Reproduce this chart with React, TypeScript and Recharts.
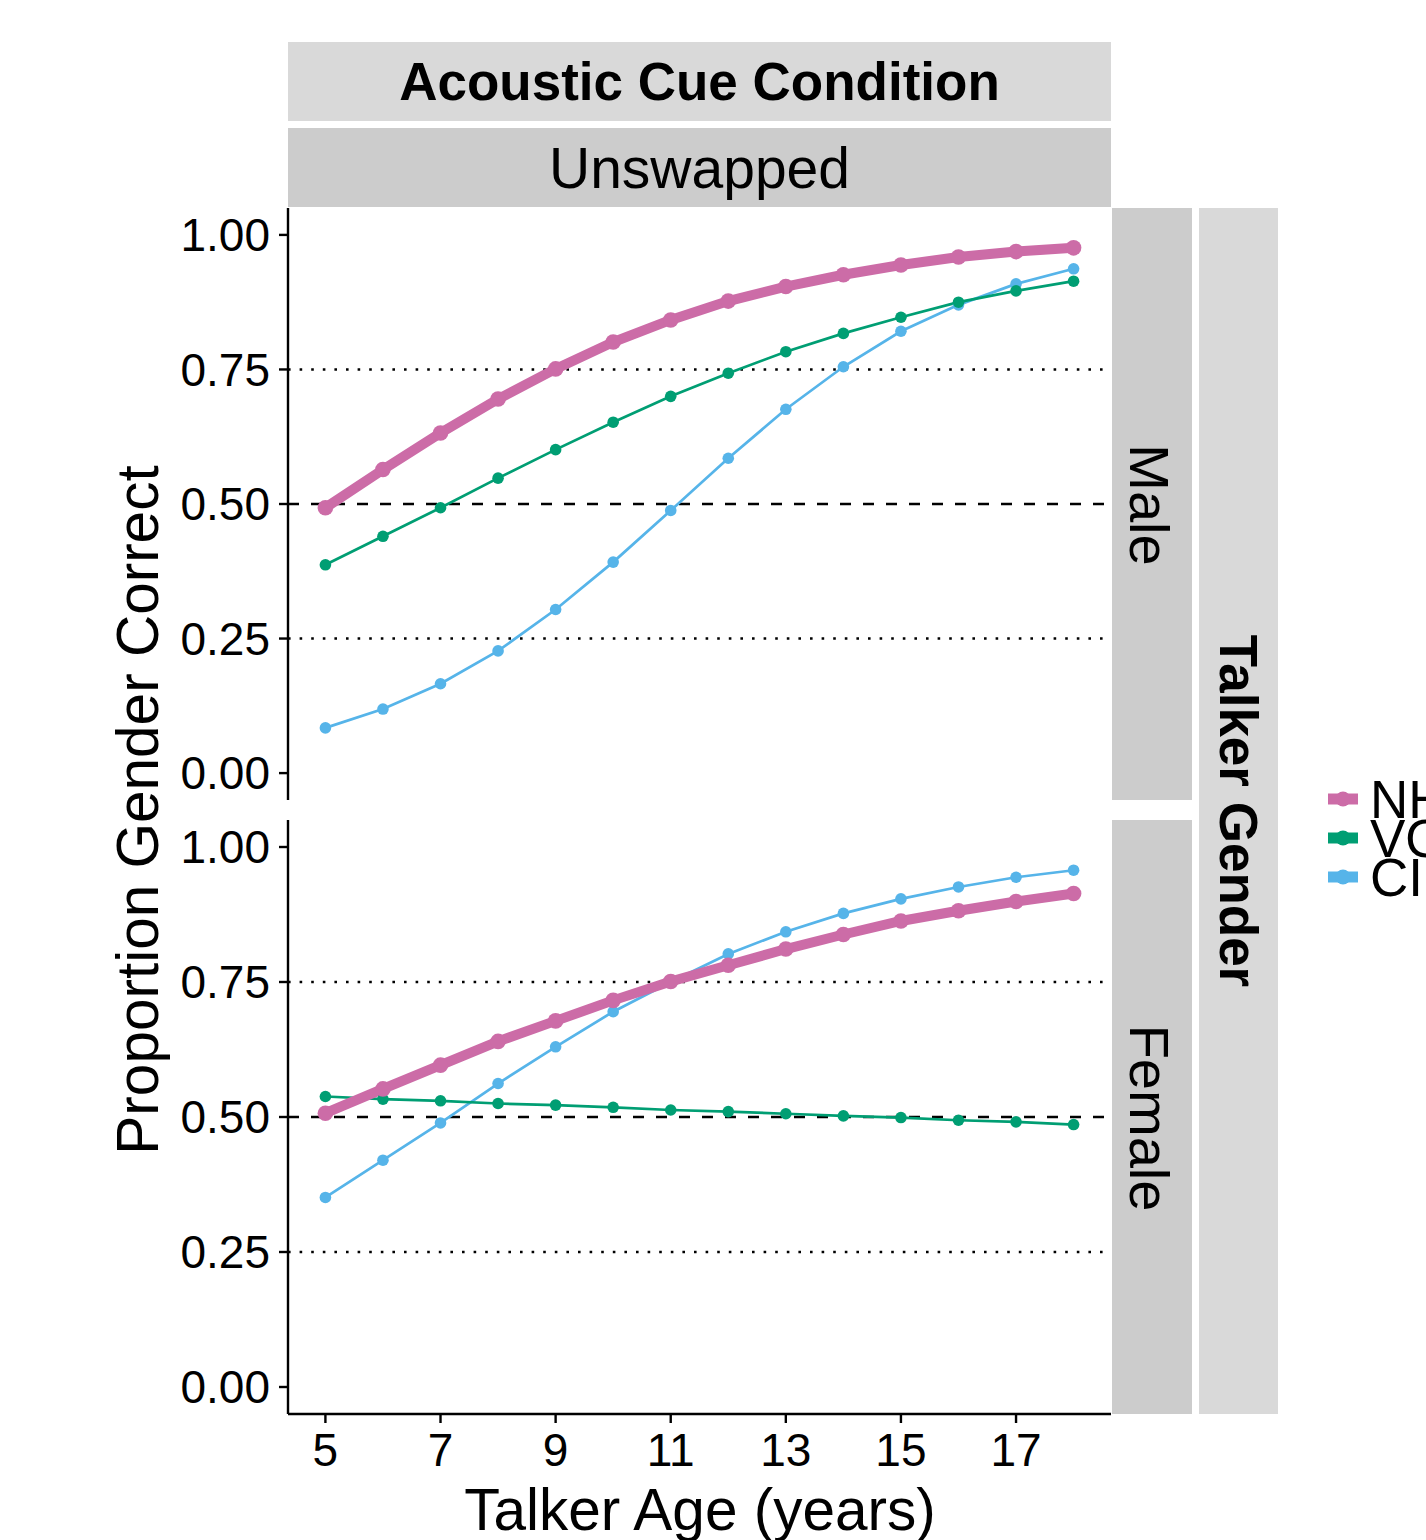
import React from 'react';
import { LineChart, Line, XAxis, YAxis, ReferenceLine } from 'recharts';

const FONT = '"Liberation Sans", Arial, Helvetica, sans-serif';

const ages = [5, 6, 7, 8, 9, 10, 11, 12, 13, 14, 15, 16, 17, 18];
const xTicks = [5, 7, 9, 11, 13, 15, 17];
const yTicks = [0, 0.25, 0.5, 0.75, 1];

const nhMale = [0.493, 0.564, 0.632, 0.695, 0.751, 0.801, 0.842, 0.877, 0.904, 0.926, 0.944, 0.959, 0.969, 0.976];
const vocMale = [0.387, 0.44, 0.493, 0.548, 0.601, 0.652, 0.7, 0.743, 0.783, 0.817, 0.847, 0.875, 0.896, 0.914];
const ciMale = [0.084, 0.119, 0.166, 0.227, 0.304, 0.392, 0.488, 0.585, 0.676, 0.755, 0.821, 0.87, 0.909, 0.937];

const nhFemale = [0.507, 0.552, 0.596, 0.64, 0.678, 0.716, 0.751, 0.781, 0.811, 0.838, 0.863, 0.882, 0.899, 0.914];
const vocFemale = [0.538, 0.533, 0.53, 0.525, 0.522, 0.518, 0.513, 0.51, 0.506, 0.502, 0.499, 0.494, 0.491, 0.486];
const ciFemale = [0.351, 0.42, 0.489, 0.562, 0.63, 0.695, 0.75, 0.802, 0.843, 0.877, 0.904, 0.926, 0.944, 0.957];

const seriesNames = ['NH', 'VOC', 'CI'];
const seriesColors = ['#CC6CA7', '#009E73', '#56B4E9'];

const maleData = ages.map((a, i) => ({ age: a, NH: nhMale[i], VOC: vocMale[i], CI: ciMale[i] }));
const femaleData = ages.map((a, i) => ({ age: a, NH: nhFemale[i], VOC: vocFemale[i], CI: ciFemale[i] }));

const axisStroke = { stroke: '#000', strokeWidth: 2.4 };
const tickStyle = { fontSize: 46, fill: '#000', fontFamily: FONT };

function Panel({ data, showX, height }: { data: any[]; showX: boolean; height: number }) {
  return (
    <LineChart width={1112} height={height} data={data} margin={{ top: 0, right: 1, bottom: 0, left: 0 }}>
      <XAxis
        dataKey="age"
        type="number"
        domain={[4.35, 18.65]}
        ticks={xTicks}
        interval={0}
        allowDataOverflow
        hide={!showX}
        height={60}
        tickSize={9}
        tickMargin={10}
        axisLine={axisStroke}
        tickLine={axisStroke}
        tick={tickStyle}
      />
      <YAxis
        type="number"
        domain={[-0.05, 1.05]}
        ticks={yTicks}
        interval={0}
        allowDataOverflow
        width={288}
        tickSize={9}
        tickMargin={9}
        tickFormatter={(v: number) => v.toFixed(2)}
        axisLine={axisStroke}
        tickLine={axisStroke}
        tick={tickStyle}
      />
      <ReferenceLine y={0.75} stroke="#000" strokeWidth={2.6} strokeDasharray="2.6 9" />
      <ReferenceLine y={0.25} stroke="#000" strokeWidth={2.6} strokeDasharray="2.6 9" />
      <ReferenceLine y={0.5} stroke="#000" strokeWidth={2.6} strokeDasharray="11 12" />
      <Line dataKey="CI" type="linear" stroke={seriesColors[2]} strokeWidth={2.7} dot={{ r: 5.8, fill: seriesColors[2], stroke: 'none' }} activeDot={false} isAnimationActive={false} />
      <Line dataKey="VOC" type="linear" stroke={seriesColors[1]} strokeWidth={2.7} dot={{ r: 5.8, fill: seriesColors[1], stroke: 'none' }} activeDot={false} isAnimationActive={false} />
      <Line dataKey="NH" type="linear" stroke={seriesColors[0]} strokeWidth={10} dot={{ r: 7.8, fill: seriesColors[0], stroke: 'none' }} activeDot={false} isAnimationActive={false} />
    </LineChart>
  );
}

export default function App() {
  const legendY = [799, 838, 877];
  return (
    <div style={{ position: 'absolute', left: 0, top: 0, width: 1426, height: 1540, overflow: 'hidden', background: '#fff', fontFamily: FONT }}>
      <svg width={1426} height={1540} style={{ position: 'absolute', left: 0, top: 0 }}>
        <rect x={288} y={42} width={823} height={79} fill="#D9D9D9" />
        <text x={699.5} y={100} textAnchor="middle" fontSize={53} fontWeight="bold" fontFamily={FONT} fill="#000">Acoustic Cue Condition</text>
        <rect x={288} y={128} width={823} height={79} fill="#CCCCCC" />
        <text x={699.5} y={188} textAnchor="middle" fontSize={57} fontFamily={FONT} fill="#000">Unswapped</text>

        <rect x={1112} y={208} width={80} height={592} fill="#CCCCCC" />
        <text transform="translate(1150,505) rotate(90)" x={0} y={20} textAnchor="middle" fontSize={56} fontFamily={FONT} fill="#000">Male</text>
        <rect x={1112} y={820} width={80} height={594} fill="#CCCCCC" />
        <text transform="translate(1150,1118) rotate(90)" x={0} y={20} textAnchor="middle" fontSize={56} fontFamily={FONT} fill="#000">Female</text>

        <rect x={1199} y={208} width={79} height={1206} fill="#D9D9D9" />
        <text transform="translate(1238.5,811) rotate(90)" x={0} y={19} textAnchor="middle" fontSize={53} fontWeight="bold" fontFamily={FONT} fill="#000">Talker Gender</text>

        <text transform="translate(158,810) rotate(-90)" x={0} y={0} textAnchor="middle" fontSize={58.5} fontFamily={FONT} fill="#000">Proportion Gender Correct</text>
        <text x={700} y={1530} textAnchor="middle" fontSize={58.5} fontFamily={FONT} fill="#000">Talker Age (years)</text>

        {seriesNames.map((name, i) => (
          <g key={name}>
            <line x1={1328} x2={1358} y1={legendY[i]} y2={legendY[i]} stroke={seriesColors[i]} strokeWidth={11} />
            <circle cx={1343} cy={legendY[i]} r={7.5} fill={seriesColors[i]} />
            <text x={1370} y={legendY[i] + 19} fontSize={53} fontFamily={FONT} fill="#000">{name}</text>
          </g>
        ))}
      </svg>
      <div style={{ position: 'absolute', left: 0, top: 208 }}>
        <Panel data={maleData} showX={false} height={592} />
      </div>
      <div style={{ position: 'absolute', left: 0, top: 820 }}>
        <Panel data={femaleData} showX={true} height={654} />
      </div>
    </div>
  );
}
